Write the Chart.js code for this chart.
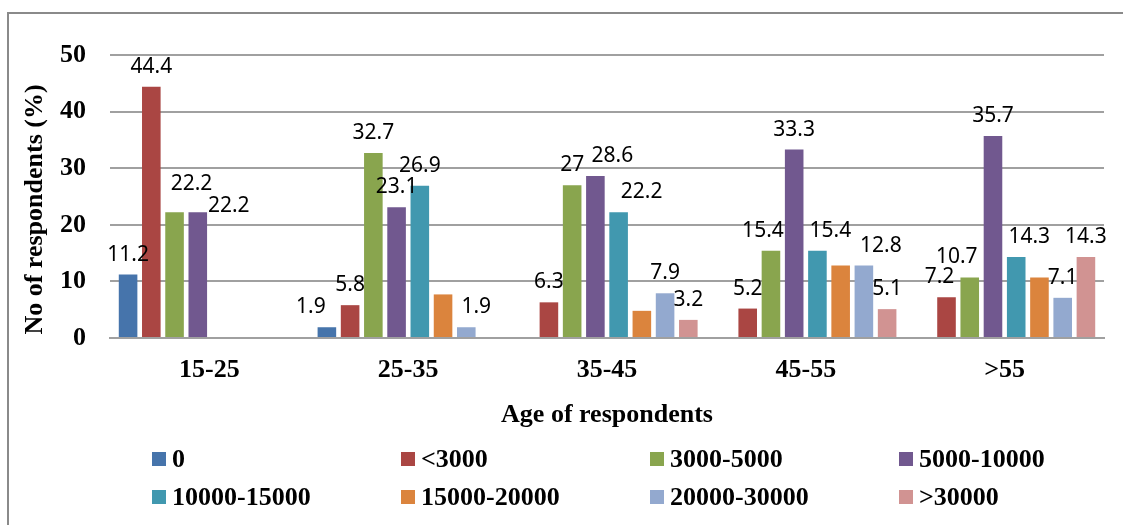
<!DOCTYPE html>
<html>
<head>
<meta charset="utf-8">
<title>Age of respondents</title>
<script src="https://cdn.jsdelivr.net/npm/chart.js@4.4.1/dist/chart.umd.min.js"></script>
<style>
  body { margin: 0; background: #fff; overflow: hidden; }
  #wrap { position: relative; width: 1123px; height: 525px; }
  #frame { position: absolute; left: 7px; top: 12px; right: -10px; bottom: -10px;
           border-left: 2px solid #8a8a8a; border-top: 2px solid #8a8a8a; }
  #myChart { position: absolute; left: 0; top: 0; }
</style>
</head>
<body>
<div id="wrap">
  <div id="frame"></div>
  <canvas id="myChart" width="1123" height="525"></canvas>
</div>
<script>
'use strict'
// age groups on the x axis
let ageGroups = ['15-25', '25-35', '35-45', '45-55', '>55'];

// income groups (series)
let incomeGroups = ['0', '<3000', '3000-5000', '5000-10000', '10000-15000', '15000-20000', '20000-30000', '>30000'];

// % of respondents, one array per income group (null = no bar)
let zero      = [11.2, 1.9, null, null, null];
let below3k   = [44.4, 5.8, 6.3, 5.2, 7.2];
let k3to5     = [22.2, 32.7, 27, 15.4, 10.7];
let k5to10    = [22.2, 23.1, 28.6, 33.3, 35.7];
let k10to15   = [null, 26.9, 22.2, 15.4, 14.3];
let k15to20   = [null, 7.7, 4.8, 12.8, 10.7];
let k20to30   = [null, 1.9, 7.9, 12.8, 7.1];
let above30k  = [null, null, 3.2, 5.1, 14.3];

let yTicks = [0, 10, 20, 30, 40, 50];

// the 15000-20000 bars carry no value label in the original
let noLabelSeries = ['15000-20000'];

let colors = ['#4674AB', '#AA4643', '#89A54E', '#71588F', '#4198AF', '#DB843D', '#93A9CF', '#D19392'];
let seriesValues = [zero, below3k, k3to5, k5to10, k10to15, k15to20, k20to30, above30k];

// labels that were dragged aside in the original: 'dataset,category' -> [dx, dy]
let labelNudge = {
    '0,1': [-16, 0],
    '2,0': [17, -8],
    '3,0': [31, 14],
    '3,2': [17, 0],
    '4,2': [23, 0],
    '4,3': [13, 0],
    '6,1': [10, 0],
    '6,3': [17, 0],
    '2,3': [-8, 0],
    '2,4': [-13, 0],
    '1,4': [-7, 0],
    '4,4': [13, 0]
};

let datasets = [];
for (let i = 0; i < incomeGroups.length; i++) {
    datasets.push({
        label: incomeGroups[i],
        data: seriesValues[i],
        backgroundColor: colors[i],
        borderWidth: 0,
        categoryPercentage: 0.935,
        barPercentage: 0.8
    });
}

let serif = "'Liberation Serif', 'Times New Roman', serif";

// value labels above the bars
let valueLabels = {
    id: 'valueLabels',
    afterDatasetsDraw(chart) {
        let ctx = chart.ctx;
        ctx.save();
        ctx.font = "21px 'Noto Sans', 'Open Sans', sans-serif";
        ctx.fillStyle = '#000';
        ctx.textAlign = 'center';
        ctx.textBaseline = 'alphabetic';
        chart.data.datasets.forEach(function (ds, i) {
            if (noLabelSeries.includes(ds.label)) return;
            let meta = chart.getDatasetMeta(i);
            meta.data.forEach(function (bar, j) {
                let v = ds.data[j];
                if (v === null || v === undefined) return;
                let n = labelNudge[i + ',' + j] || [0, 0];
                ctx.fillText(String(v), bar.x + n[0], bar.y - 14 + n[1]);
            });
        });
        ctx.restore();
    }
};

// legend in a 4 column grid under the axis title
let gridLegend = {
    id: 'gridLegend',
    afterDraw(chart) {
        let ctx = chart.ctx;
        let cols = 4;
        let x0 = 152, colW = 249, y0 = 459, rowH = 38;
        ctx.save();
        ctx.font = 'bold 26px ' + serif;
        ctx.textBaseline = 'middle';
        ctx.textAlign = 'left';
        chart.data.datasets.forEach(function (ds, i) {
            let x = x0 + (i % cols) * colW;
            let y = y0 + Math.floor(i / cols) * rowH;
            ctx.fillStyle = ds.backgroundColor;
            ctx.fillRect(x, y - 7, 14, 14);
            ctx.fillStyle = '#000';
            ctx.fillText(ds.label, x + 20, y + 1);
        });
        ctx.restore();
    }
};

let ctx = document.getElementById('myChart').getContext('2d');
let myChart = new Chart(ctx, {
    type: 'bar',
    data: {
        labels: ageGroups,
        datasets: datasets
    },
    plugins: [valueLabels, gridLegend],
    options: {
        responsive: false,
        animation: false,
        layout: {
            padding: { top: 55, right: 19, bottom: 81, left: 0 }
        },
        plugins: {
            legend: { display: false },
            tooltip: { enabled: false }
        },
        scales: {
            x: {
                grid: { display: false },
                border: { display: true, color: '#a0a0a0', width: 2 },
                ticks: {
                    color: '#000',
                    padding: 9,
                    font: { family: serif, size: 26, weight: 'bold' }
                },
                title: {
                    display: true,
                    text: 'Age of respondents',
                    color: '#000',
                    padding: { top: 4, bottom: 13 },
                    font: { family: serif, size: 26, weight: 'bold' }
                },
                afterFit: function (scale) { scale.height = 106; }
            },
            y: {
                min: 0,
                max: 50,
                afterBuildTicks: function (scale) {
                    scale.ticks = yTicks.map(function (v) { return { value: v }; });
                },
                grid: { color: '#a0a0a0', lineWidth: 2, drawTicks: false },
                border: { display: false },
                ticks: {
                    color: '#000',
                    padding: 24,
                    font: { family: serif, size: 26, weight: 'bold' }
                },
                title: {
                    display: true,
                    // trailing spaces push the rotated title a little lower, like the original
                    text: 'No of respondents (%)    ',
                    color: '#000',
                    padding: { top: 20, bottom: 4 },
                    font: { family: serif, size: 26, weight: 'bold' }
                },
                afterFit: function (scale) { scale.width = 110; }
            }
        }
    }
});
</script>
</body>
</html>
